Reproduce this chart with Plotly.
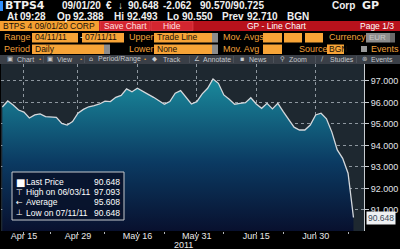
import plotly.graph_objects as go
import pandas as pd

# ---------------- data ----------------
dates = pd.bdate_range("2011-04-11", "2011-07-11").strftime("%Y-%m-%d").tolist()
prices = [95.79, 96.07, 95.88, 95.65, 95.55, 95.28, 95.42, 95.47, 95.34, 95.31,
          95.31, 95.03, 94.95, 95.11, 95.50, 95.68, 95.80, 95.85, 95.93, 96.06,
          96.04, 96.24, 96.33, 96.63, 96.50, 96.66, 96.50, 96.38, 96.24, 96.08,
          95.92, 96.04, 96.43, 96.55, 96.24, 95.93, 96.04, 96.40, 96.66, 97.093,
          96.89, 96.35, 96.15, 95.92, 95.96, 95.99, 96.22, 95.93, 95.73, 95.96,
          95.70, 95.96, 95.57, 95.19, 94.85, 94.72, 94.72, 94.95, 95.42, 95.50,
          95.24, 94.62, 93.79, 93.40, 92.71, 90.648]
major_dates = ["2011-04-15", "2011-04-29", "2011-05-16", "2011-05-31", "2011-06-15", "2011-06-30"]
major_labels = ["Apr 15", "Apr 29", "May 16", "May 31", "Jun 15", "Jun 30"]
minor_dates = ["2011-04-22", "2011-05-06", "2011-05-23", "2011-06-07", "2011-06-22", "2011-07-08"]
y_ticks = [91, 92, 93, 94, 95, 96, 97]
legend_rows = [("■", "Last Price", "90.648"),
               ("⊤", "High on 06/03/11", "97.093"),
               ("←", "Average", "95.608"),
               ("⊥", "Low on 07/11/11", "90.648")]

W, H = 400, 249
FONT = "Liberation Sans, Arial, sans-serif"
idx = list(range(len(dates)))


def px(x):
    return x / W


def py(y):
    return 1 - y / H


fig = go.Figure()
fig.add_trace(go.Scatter(
    x=idx, y=prices, mode="lines",
    line=dict(color="#d4d8dc", width=1.3),
    fill="tozeroy",
    fillgradient=dict(type="vertical",
                      colorscale=[[0, "#08102e"], [0.45, "#0b3a62"], [1, "#1a8a9c"]],
                      start=90.0, stop=97.1),
    hoverinfo="skip", showlegend=False))

annotations = []
shapes = []


def txt(x, y, s, color="#f0f0f0", size=10, bold=False, anchor="left", family=FONT):
    annotations.append(dict(x=px(x), y=py(y), xref="paper", yref="paper",
                            xanchor=anchor, yanchor="middle", showarrow=False,
                            text=("<b>%s</b>" % s) if bold else s,
                            font=dict(color=color, size=size, family=family),
                            borderpad=0))


def rect(x0, y0, x1, y1, fill, line=None, lw=0):
    shapes.append(dict(type="rect", xref="paper", yref="paper",
                       x0=px(x0), x1=px(x1), y0=py(y1), y1=py(y0),
                       fillcolor=fill, line=dict(color=line or fill, width=lw),
                       layer="above"))


# ---------------- header row 1 / 2 ----------------
rect(0, 1, 3, 11, "#2f8fff")
txt(4, 6, "BTPS4", size=11, bold=True, family="DejaVu Sans, sans-serif")
txt(61, 6, "09/01/20", bold=True)
txt(105, 6, "€", bold=True)
txt(117, 6, "↓", bold=True)
txt(127, 6, "90.648", bold=True)
txt(162, 6, "-2.062", bold=True)
txt(199, 6, "90.570/90.725", bold=True)
txt(331, 6, "Corp", bold=True)
txt(361, 6, "GP", size=11, bold=True, family="DejaVu Sans, sans-serif")

row2 = [(6, "At"), (19, "09:28"), (56, "Op"), (72, "92.388"), (113, "Hi"), (126, "92.493"),
        (166, "Lo"), (181, "90.550"), (221, "Prev"), (246, "92.710"), (286, "BGN")]
for x, s in row2:
    txt(x, 16.5, s, bold=True, size=10)

# ---------------- header row 3 ----------------
rect(0, 21, 99, 31, "#f5a032")
txt(2, 26, "BTPS 4 09/01/20 CORP", color="#1a1208", size=8.5)
rect(99, 21, 400, 31, "#b8121c")
rect(100, 21.5, 150, 30.5, "#d42630", "#e85058", 0.5)
rect(151, 21.5, 193, 30.5, "#d42630", "#e85058", 0.5)
txt(125, 26, "Save Chart", color="#ffe0e0", size=8.5, anchor="center")
txt(172, 26, "Hide", color="#ffe0e0", size=8.5, anchor="center")
txt(277, 26, "GP - Line Chart", color="#ffffff", size=8.5, anchor="center")
txt(395, 26, "Page 1/3", color="#ffffff", size=8.5, anchor="right")

# ---------------- header rows 4 / 5 ----------------
OR_T = "#f2a23a"
OR_B = "#f7a437"
GR_B = "#8c8c8c"
txt(3, 37.5, "Range", color=OR_T, size=9)
rect(32, 33, 78, 42.5, OR_B)
txt(34, 37.5, "04/11/11", color="#1a1208", size=8.5)
txt(79, 37.5, "-", color="#f0f0f0", size=9)
rect(82, 33, 124, 42.5, OR_B)
txt(84, 37.5, "07/11/11", color="#1a1208", size=8.5)
txt(128, 37.5, "Upper", color=OR_T, size=9)
rect(154, 33, 212, 42.5, OR_B)
txt(156, 37.5, "Trade Line", color="#1a1208", size=8.5)
rect(212, 33, 218, 42.5, GR_B)
txt(222, 37.5, "Mov. Avgs", color=OR_T, size=9)
rect(263, 33, 282, 42.5, OR_B)
rect(284, 33, 302, 42.5, OR_B)
rect(305, 33, 323, 42.5, OR_B)
txt(328, 37.5, "Currency", color=OR_T, size=9)
rect(366, 33, 390, 42.5, GR_B)
txt(368, 37.5, "EUR", color="#c8c8c8", size=8)
rect(390, 33, 395, 42.5, "#6a6a6a")

txt(3, 49, "Period", color=OR_T, size=9)
rect(32, 44.5, 104, 54, OR_B)
txt(34, 49, "Daily", color="#1a1208", size=8.5)
rect(104, 44.5, 110, 54, GR_B)
txt(128, 49, "Lower", color=OR_T, size=9)
rect(154, 44.5, 212, 54, OR_B)
txt(156, 49, "None", color="#1a1208", size=8.5)
rect(212, 44.5, 218, 54, GR_B)
txt(222, 49, "Mov. Avg", color=OR_T, size=9)
rect(263, 44.5, 282, 54, OR_B)
txt(298, 49, "Source", color=OR_T, size=9)
rect(327, 44.5, 344, 54, OR_B)
txt(328, 49, "BGN", color="#1a1208", size=8.5)
rect(361, 46, 367, 52, "#9a9a9a")
txt(370, 49, "Events", color=OR_T, size=9)

# ---------------- toolbar ----------------
rect(0, 55, 400, 64, "#3a3f47")
tool_items = [(16, "Chart"), (56, "View"), (97, "Period/Range"), (162, "Track"),
              (202, "Annotate"), (248, "News"), (288, "Zoom"), (329, "Studies"), (370, "Events")]
tool_icons = [(6, "▣"), (46, "▣"), (88, "⌂"), (151, "◆"), (193, "∠"), (239, "▪"),
              (279, "⚲"), (320, "∕"), (361, "⊜")]
for x, s in tool_items:
    txt(x, 59.5, s, color="#c4c8cc", size=7)
for x, s in tool_icons:
    txt(x, 59.5, s, color="#c4c8cc", size=6.5, family="DejaVu Sans, sans-serif")
for x in [38, 79, 143]:
    txt(x, 59.5, "•", color="#f0a030", size=6)
for x in [43, 84, 189, 233, 273, 315, 356]:
    rect(x, 56, x + 0.6, 63, "#5a6068")

# ---------------- legend box ----------------
rect(12, 172, 124, 220, "rgba(8,18,42,0.88)", "#c4c8cc", 1)
for k, (g, lab, val) in enumerate(legend_rows):
    yy = 182 + k * 10.2
    txt(15, yy, g, color="#ffffff", size=8 if k else 10, family="DejaVu Sans, sans-serif")
    txt(25, yy, lab, color="#ffffff", size=8.5)
    txt(121, yy, val, color="#ffffff", size=8.5, anchor="right")

# ---------------- last price tag ----------------
annotations.append(dict(x=px(366), y=prices[-1], xref="paper", yref="y",
                        xanchor="left", yanchor="middle", showarrow=False,
                        text=f"{prices[-1]:.3f}", bgcolor="#eef0f2",
                        font=dict(color="#3a4a5a", size=8.5, family=FONT), borderpad=1))

txt(183, 245, "2011", color="#e8e8e8", size=9, anchor="center")

fig.update_layout(
    width=W, height=H,
    margin=dict(l=0, r=0, t=0, b=0),
    paper_bgcolor="#000000",
    plot_bgcolor="#1e2830",
    showlegend=False,
    annotations=annotations,
    shapes=shapes,
    xaxis=dict(
        domain=[px(1), px(364)],
        range=[-0.25, 66.95],
        tickvals=[dates.index(d) for d in major_dates],
        ticktext=major_labels,
        ticks="outside", ticklen=2, tickcolor="#b0b4b8",
        ticklabelstandoff=-6,
        tickfont=dict(color="#e8e8e8", size=9, family=FONT),
        showgrid=True, gridcolor="rgba(190,198,206,0.7)", griddash="dot", gridwidth=1,
        minor=dict(tickvals=[dates.index(d) for d in minor_dates], ticks="outside",
                   ticklen=2, tickcolor="#b0b4b8", showgrid=False),
        showline=False, zeroline=False, fixedrange=True,
    ),
    yaxis=dict(
        domain=[py(231), py(64)],
        range=[90.02, 97.79],
        side="right",
        tickvals=y_ticks, tickformat=".3f",
        ticks="outside", ticklen=4, tickcolor="#c8ccd0",
        tickfont=dict(color="#e0e4e8", size=9, family=FONT),
        showgrid=True, gridcolor="rgba(190,198,206,0.7)", griddash="dot", gridwidth=1,
        showline=True, linecolor="#c8ccd0", linewidth=1,
        zeroline=False, fixedrange=True,
    ),
)

fig.write_html("out.html")
